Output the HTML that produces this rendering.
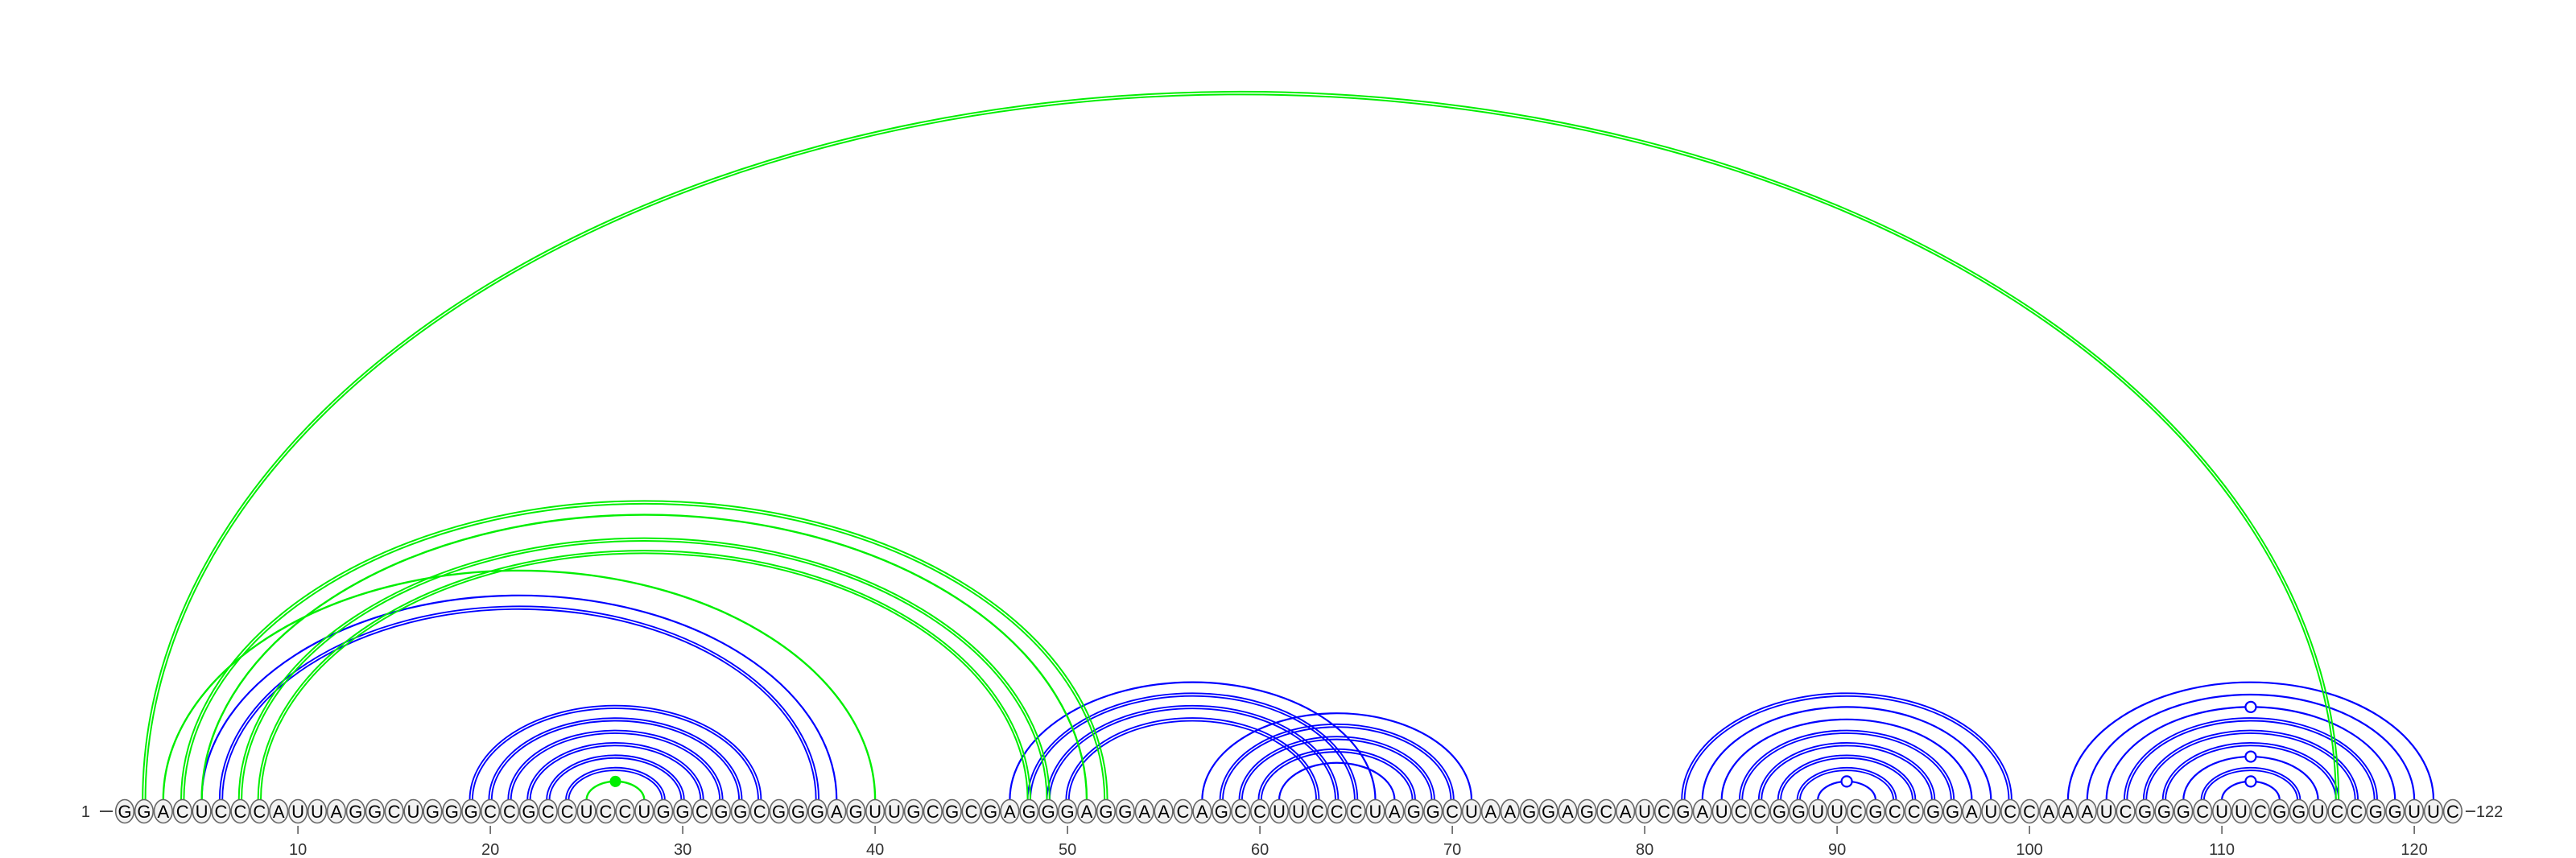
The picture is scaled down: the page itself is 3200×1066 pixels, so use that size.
<!DOCTYPE html>
<html><head><meta charset="utf-8"><style>
html,body{margin:0;padding:0;background:#fff;}
svg{display:block;}
text{font-family:"Liberation Sans","DejaVu Sans",sans-serif;}
</style></head>
<body>
<svg id="chart" width="3200" height="1066" viewBox="0 0 3200 1066" xmlns="http://www.w3.org/2000/svg">
<g id="arcs"></g>
<g id="nts"></g>
<g id="axis"></g>
</svg>
<script>
const sequence = "GGACUCCCAUUAGGCUGGGCCGCCUCCUGGCGGCGGGAGUUGCGCGAGGGAGGAACAGCCUUCCCUAGGCUAAGGAGCAUCGAUCCGGUUCGCCGGAUCCAAAUCGGGCUUCGGUCCGGUUC";
const blueDouble = [[6,37],[19,34],[20,33],[21,32],[22,31],[23,30],[24,29],[48,65],[49,64],[50,63],[58,70],[59,69],[60,68],[82,99],[85,96],[86,95],[87,94],[88,93],[105,118],[106,117],[107,116],[109,114]];
const blueSingle = [[5,38],[47,66],[57,71],[61,67],[83,98],[84,97],[89,92],[102,121],[103,120],[104,119],[108,115],[110,113]];
const greenDouble = [[2,116],[4,52],[7,49],[8,48]];
const greenSingle = [[3,40],[5,51],[25,28]];
const openMarks = [[89,92],[104,119],[108,115],[110,113]];
const filledMarks = [[25,28]];
const tickValues = [10,20,30,40,50,60,70,80,90,100,110,120];

const NS = "http://www.w3.org/2000/svg";
const X0 = 155, STEP = 23.9, BASE = 994, RATIO = 0.645, NTY = 1008;
function xPos(p){ return X0 + (p - 1) * STEP; }
function arcPath(i, j, off){
  const x1 = xPos(i), x2 = xPos(j);
  const rx = (x2 - x1) / 2 + off;
  const ry = RATIO * (x2 - x1) / 2 + off;
  const cx = (x1 + x2) / 2;
  return "M" + (cx - rx) + "," + BASE + " A" + rx + "," + ry + " 0 0 1 " + (cx + rx) + "," + BASE;
}
function apexY(i, j){ return BASE - RATIO * (xPos(j) - xPos(i)) / 2; }
const arcs = document.getElementById("arcs");
function addArc(pair, color, off, w, name){
  const p = document.createElementNS(NS, "path");
  p.setAttribute("d", arcPath(pair[0], pair[1], off));
  p.setAttribute("fill", "none");
  p.setAttribute("stroke", color);
  p.setAttribute("stroke-width", w);
  
  
  arcs.appendChild(p);
}
blueDouble.forEach(pr => { addArc(pr, "#0000ff", -1.7, 1.9, "blue-pair-arc-" + pr[0] + "-" + pr[1]); addArc(pr, "#0000ff", 1.7, 1.9, "blue-pair-arc-" + pr[0] + "-" + pr[1] + "-outer"); });
blueSingle.forEach(pr => addArc(pr, "#0000ff", 0, 2.2, "blue-pair-arc-" + pr[0] + "-" + pr[1]));
greenDouble.forEach(pr => { addArc(pr, "#00ee00", -1.7, 2.0, "green-pair-arc-" + pr[0] + "-" + pr[1]); addArc(pr, "#00ee00", 1.7, 2.0, "green-pair-arc-" + pr[0] + "-" + pr[1] + "-outer"); });
greenSingle.forEach(pr => addArc(pr, "#00ee00", 0, 2.4, "green-pair-arc-" + pr[0] + "-" + pr[1]));
openMarks.forEach(pr => {
  const c = document.createElementNS(NS, "circle");
  c.setAttribute("cx", (xPos(pr[0]) + xPos(pr[1])) / 2);
  c.setAttribute("cy", apexY(pr[0], pr[1]));
  c.setAttribute("r", 6.5);
  c.setAttribute("fill", "#fff");
  c.setAttribute("stroke", "#0000ff");
  c.setAttribute("stroke-width", 2.2);
  
  
  arcs.appendChild(c);
});
filledMarks.forEach(pr => {
  const c = document.createElementNS(NS, "circle");
  c.setAttribute("cx", (xPos(pr[0]) + xPos(pr[1])) / 2);
  c.setAttribute("cy", apexY(pr[0], pr[1]));
  c.setAttribute("r", 7);
  c.setAttribute("fill", "#00ee00");
  
  
  arcs.appendChild(c);
});
const nts = document.getElementById("nts");
for (let k = 0; k < sequence.length; k++){
  const x = xPos(k + 1);
  const e = document.createElementNS(NS, "ellipse");
  e.setAttribute("cx", x); e.setAttribute("cy", NTY);
  e.setAttribute("rx", 11.3); e.setAttribute("ry", 14.5);
  e.setAttribute("fill", "#f2f2f2"); e.setAttribute("stroke", "#666"); e.setAttribute("stroke-width", 1.6);
  
  
  nts.appendChild(e);
  const t = document.createElementNS(NS, "text");
  t.setAttribute("x", x); t.setAttribute("y", NTY + 8);
  t.setAttribute("text-anchor", "middle"); t.setAttribute("font-size", "22");
  t.setAttribute("fill", "#000");
  t.textContent = sequence[k];
  
  
  nts.appendChild(t);
}
const axis = document.getElementById("axis");
tickValues.forEach(v => {
  const l = document.createElementNS(NS, "line");
  l.setAttribute("x1", xPos(v)); l.setAttribute("x2", xPos(v));
  l.setAttribute("y1", 1026); l.setAttribute("y2", 1036);
  l.setAttribute("stroke", "#555"); l.setAttribute("stroke-width", 1.5);
  
  
  axis.appendChild(l);
  const t = document.createElementNS(NS, "text");
  t.setAttribute("x", xPos(v)); t.setAttribute("y", 1062);
  t.setAttribute("text-anchor", "middle"); t.setAttribute("font-size", "20");
  t.setAttribute("fill", "#333");
  t.textContent = v;
  
  
  axis.appendChild(t);
});
const s = document.createElementNS(NS, "text");
s.setAttribute("x", 112); s.setAttribute("y", 1015); s.setAttribute("text-anchor", "end");
s.setAttribute("font-size", "20"); s.setAttribute("fill", "#333");
s.textContent = "1";


axis.appendChild(s);
const sl = document.createElementNS(NS, "line");
sl.setAttribute("x1", 124); sl.setAttribute("x2", 140); sl.setAttribute("y1", 1008); sl.setAttribute("y2", 1008);
sl.setAttribute("stroke", "#333"); sl.setAttribute("stroke-width", 1.8);


axis.appendChild(sl);
const el = document.createElementNS(NS, "line");
el.setAttribute("x1", xPos(sequence.length) + 16); el.setAttribute("x2", xPos(sequence.length) + 28); el.setAttribute("y1", 1008); el.setAttribute("y2", 1008);
el.setAttribute("stroke", "#333"); el.setAttribute("stroke-width", 1.8);


axis.appendChild(el);
const e2 = document.createElementNS(NS, "text");
e2.setAttribute("x", xPos(sequence.length) + 29); e2.setAttribute("y", 1015);
e2.setAttribute("font-size", "20"); e2.setAttribute("fill", "#333");
e2.textContent = sequence.length;


axis.appendChild(e2);
</script>
</body></html>
